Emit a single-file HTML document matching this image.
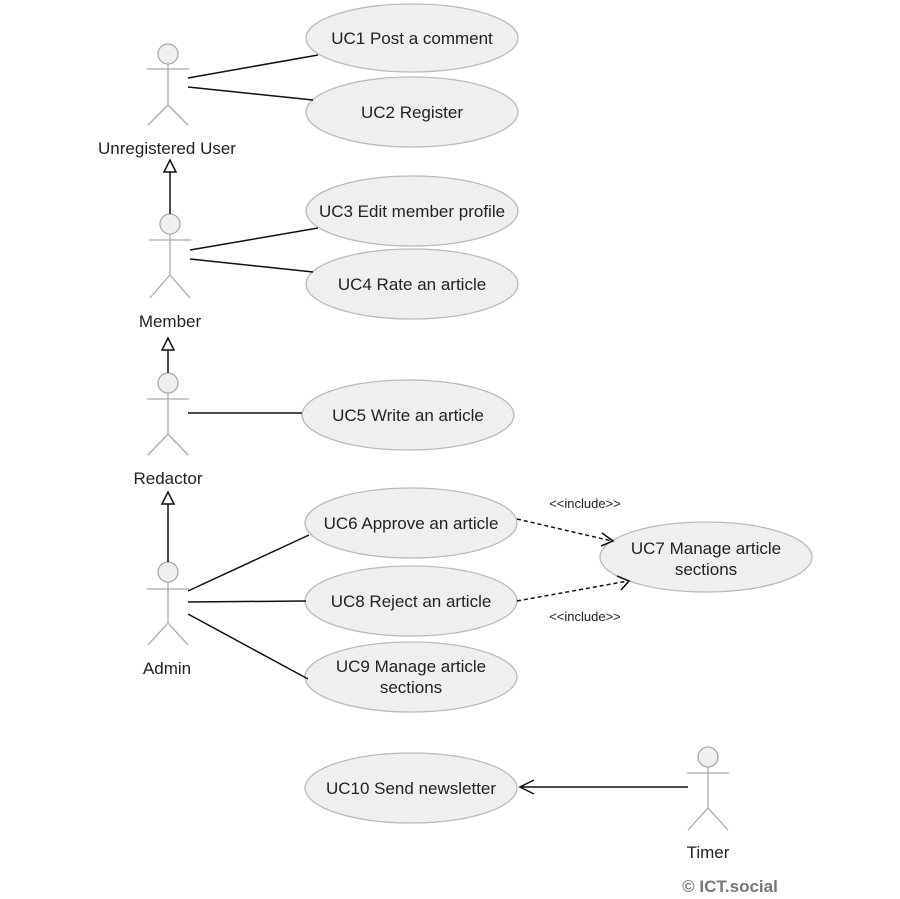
<!DOCTYPE html>
<html><head><style>body{margin:0;background:#fff}svg{display:block}text{font-family:"Liberation Sans",Arial,sans-serif}</style></head>
<body>
<svg width="900" height="899" viewBox="0 0 900 899" xmlns="http://www.w3.org/2000/svg">
<defs>
<marker id="tri" markerWidth="14" markerHeight="14" refX="6" refY="1" orient="auto" markerUnits="userSpaceOnUse" viewBox="0 0 12 12">
</marker>
</defs>
<g fill="#efefef" stroke="#bbb" stroke-width="1.3">
<ellipse cx="412" cy="38" rx="106" ry="34"/>
<ellipse cx="412" cy="112" rx="106" ry="35"/>
<ellipse cx="412" cy="211" rx="106" ry="35"/>
<ellipse cx="412" cy="284" rx="106" ry="35"/>
<ellipse cx="408" cy="415" rx="106" ry="35"/>
<ellipse cx="411" cy="523" rx="106" ry="35"/>
<ellipse cx="411" cy="601" rx="106" ry="35"/>
<ellipse cx="411" cy="677" rx="106" ry="35"/>
<ellipse cx="706" cy="557" rx="106" ry="35"/>
<ellipse cx="411" cy="788" rx="106" ry="35"/>
</g>
<g font-size="17" fill="#222" text-anchor="middle">
<text x="412" y="44">UC1 Post a comment</text>
<text x="412" y="118">UC2 Register</text>
<text x="412" y="217">UC3 Edit member profile</text>
<text x="412" y="290">UC4 Rate an article</text>
<text x="408" y="421">UC5 Write an article</text>
<text x="411" y="529">UC6 Approve an article</text>
<text x="411" y="607">UC8 Reject an article</text>
<text x="411" y="672">UC9 Manage article</text>
<text x="411" y="693">sections</text>
<text x="706" y="554">UC7 Manage article</text>
<text x="706" y="575">sections</text>
<text x="411" y="794">UC10 Send newsletter</text>
<text x="167" y="154">Unregistered User</text>
<text x="170" y="327">Member</text>
<text x="168" y="484">Redactor</text>
<text x="167" y="674">Admin</text>
<text x="708" y="858">Timer</text>
</g>
<g font-size="13" fill="#222" text-anchor="middle">
<text x="585" y="508">&lt;&lt;include&gt;&gt;</text>
<text x="585" y="621">&lt;&lt;include&gt;&gt;</text>
</g>
<text x="730" y="892" font-size="17" font-weight="bold" fill="#777" text-anchor="middle">© ICT.social</text>
<!-- actors -->
<g fill="#efefef" stroke="#aaa" stroke-width="1.3">
<g transform="translate(168,54)"><circle r="10"/><path d="M0 10V51M-21 15H21M0 51L-20 71M0 51L20 71" fill="none"/></g>
<g transform="translate(170,224)"><circle r="10"/><path d="M0 10V51M-21 16H21M0 51L-20 74M0 51L20 74" fill="none"/></g>
<g transform="translate(168,383)"><circle r="10"/><path d="M0 10V51M-21 16H21M0 51L-20 72M0 51L20 72" fill="none"/></g>
<g transform="translate(168,572)"><circle r="10"/><path d="M0 10V51M-21 17H21M0 51L-20 73M0 51L20 73" fill="none"/></g>
<g transform="translate(708,757)"><circle r="10"/><path d="M0 10V51M-21 16H21M0 51L-20 73M0 51L20 73" fill="none"/></g>
</g>
<g stroke="#111" stroke-width="1.5" fill="none">
<path d="M188 78L318 55M188 87L313 100M190 250L318 228M190 259L313 272M188 413L302 413M188 591L309 535M188 602L306 601M188 614L308 679"/>
<path d="M170 214V172M168 373V349M168 562V504"/>
<path d="M688 787H520M534 780L520 787L534 794"/>
<path d="M517 519L612 541M517 601L628 581" stroke-dasharray="4,3"/>
<path d="M602 533L613 541L601 546M617 576L629 581L621 590"/>
</g>
<g fill="#fff" stroke="#111" stroke-width="1.5">
<path d="M170 160L164 172H176Z"/>
<path d="M168 338L162 350H174Z"/>
<path d="M168 492L162 504H174Z"/>
</g>
</svg>
</body></html>
